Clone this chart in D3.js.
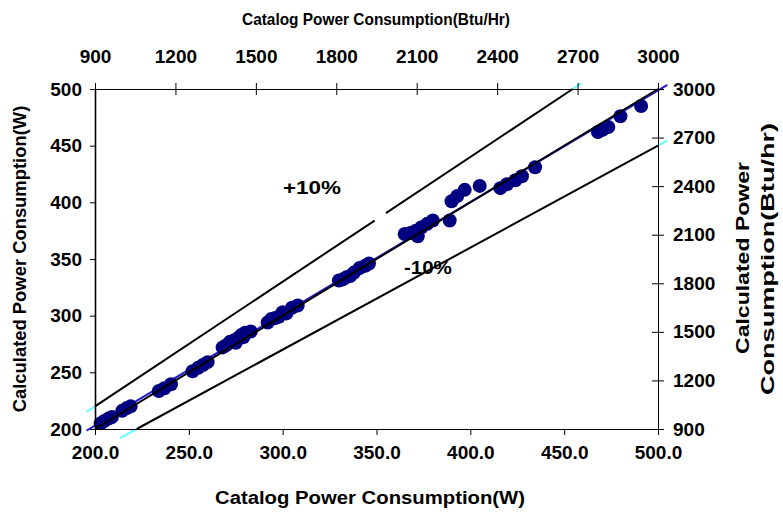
<!DOCTYPE html>
<html>
<head>
<meta charset="utf-8">
<script src="https://cdn.jsdelivr.net/npm/d3@7"></script>
<style>
  body { margin: 0; background: #fff; }
  svg { font-family: "Liberation Sans", Arial, sans-serif; font-weight: bold; }
  .axis path, .axis line { stroke: #000; }
  .axis text { font-size: 19px; fill: #000; }
</style>
</head>
<body>
<div id="chart"></div>
<script>
"use strict";

// catalog power (W) vs calculated power (W)
const catalogW = [
  203, 205, 207.5, 209, 214.5, 217, 219,
  234, 237, 240.5, 252, 255, 257.5, 260,
  268, 270, 272, 274, 275, 276, 278, 279, 280, 283,
  292, 294, 296, 298, 300, 302, 305, 308,
  330, 332, 334, 336, 338, 341, 344, 346,
  365, 368, 371, 372, 374, 377, 380, 389,
  390, 393, 397, 405, 416, 419.5, 424, 427.5, 434.5,
  468, 470.5, 473.5, 480, 491
];
const calculatedW = [
  205, 207, 209.5, 210.5, 216, 218.5, 220,
  233.5, 236, 239.5, 251, 254, 256.5, 259,
  272, 274, 277, 278, 276, 280, 283, 281, 285, 286,
  294, 297, 298, 299, 303, 302, 307, 309,
  331, 332, 334, 335, 338, 342, 344, 346,
  372, 373, 375, 370, 378, 381, 384, 384,
  401, 405.5, 411, 414.5, 412.5, 416, 419.5, 423, 431,
  462, 464, 466.5, 476, 485
];

const wTicksX = [200, 250, 300, 350, 400, 450, 500];
const wTicksY = [200, 250, 300, 350, 400, 450, 500];
const btuTicks = [900, 1200, 1500, 1800, 2100, 2400, 2700, 3000];

// reference lines: y = slope * x
const refSlopes = [1.1, 1.0, 0.9];

const W = 783, H = 514;
const margin = { top: 89, right: 125, bottom: 85, left: 95 };
const width = W - margin.left - margin.right;
const height = H - margin.top - margin.bottom;

const svg = d3.select("#chart").append("svg")
  .attr("width", W).attr("height", H);

const g = svg.append("g")
  .attr("transform", `translate(${margin.left},${margin.top})`);

const x = d3.scaleLinear().domain([200, 500]).range([0, width]);
const y = d3.scaleLinear().domain([200, 500]).range([height, 0]);
const xTop = d3.scaleLinear().domain([900, 3000]).range([0, width]);
const yRight = d3.scaleLinear().domain([900, 3000]).range([height, 0]);

function seg(x0, x1, k, color, w) {
  g.append("line")
    .attr("x1", x(x0)).attr("y1", y(k * x0))
    .attr("x2", x(x1)).attr("y2", y(k * x1))
    .attr("stroke", color)
    .attr("stroke-width", w);
}

// linear trend of the points
const mx = d3.mean(catalogW), my = d3.mean(calculatedW);
const slope = d3.sum(catalogW, (c, i) => (c - mx) * (calculatedW[i] - my)) /
              d3.sum(catalogW, c => (c - mx) * (c - mx));
const icpt = my - slope * mx;
g.append("line")
  .attr("x1", x(195.5)).attr("y1", y(icpt + slope * 195.5))
  .attr("x2", x(505)).attr("y2", y(icpt + slope * 505))
  .attr("stroke", "#2a1fd0")
  .attr("stroke-width", 2);

// cyan stubs where the +/-10% lines run past the box
seg(195.5, 200, 1.1, "#66ffff", 2);
seg(500 / 1.1, 505 / 1.1, 1.1, "#66ffff", 2);
seg(192 / 0.9, 200 / 0.9, 0.9, "#66ffff", 2);
seg(500, 505, 0.9, "#66ffff", 2);

const pts = catalogW.map((c, i) => ({ c: c, v: calculatedW[i] }));

g.selectAll(".pt")
  .data(pts)
  .enter()
  .append("circle")
  .attr("class", "pt")
  .attr("cx", d => x(d.c))
  .attr("cy", d => y(d.v))
  .attr("r", 7)
  .attr("fill", "#000080");

refSlopes.forEach(k => {
  const x0 = Math.max(200, 200 / k), x1 = Math.min(500, 500 / k);
  // the +10% line has a small break in it
  if (k > 1) {
    seg(x0, 349, k, "#000", 2);
    seg(355, x1, k, "#000", 2);
  } else {
    seg(x0, x1, k, "#000", 2);
  }
});

g.append("text")
  .attr("x", x(315.6)).attr("y", y(413.5))
  .attr("text-anchor", "middle").attr("dy", "0.35em")
  .attr("textLength", 58).attr("lengthAdjust", "spacingAndGlyphs")
  .style("font-size", "19px")
  .text("+10%");

g.append("text")
  .attr("x", x(377.4)).attr("y", y(343))
  .attr("text-anchor", "middle").attr("dy", "0.35em")
  .attr("textLength", 48).attr("lengthAdjust", "spacingAndGlyphs")
  .style("font-size", "19px")
  .text("-10%");

// axes
g.append("g")
  .attr("class", "axis")
  .attr("transform", `translate(0,${height})`)
  .call(d3.axisBottom(x).tickValues(wTicksX).tickFormat(d3.format(".1f"))
    .tickSizeInner(6).tickSizeOuter(0).tickPadding(11));

const gl = g.append("g")
  .attr("class", "axis")
  .call(d3.axisLeft(y).tickValues(wTicksY).tickFormat(d3.format("d"))
    .tickSizeInner(5).tickSizeOuter(0).tickPadding(8));
gl.select(".domain").attr("stroke", "#404040").attr("stroke-width", 1.6);

const gt = g.append("g")
  .attr("class", "axis")
  .call(d3.axisTop(xTop).tickValues(btuTicks).tickFormat(d3.format("d"))
    .tickSizeInner(6).tickSizeOuter(0).tickPadding(20));
gt.selectAll(".tick line").attr("y1", 6).attr("y2", -6);

const gr = g.append("g")
  .attr("class", "axis")
  .attr("transform", `translate(${width},0)`)
  .call(d3.axisRight(yRight).tickValues(btuTicks).tickFormat(d3.format("d"))
    .tickSizeInner(6).tickSizeOuter(0).tickPadding(9));
gr.selectAll(".tick line").attr("x1", -6).attr("x2", 6);

// axis titles
svg.append("text")
  .attr("x", 376).attr("y", 25)
  .attr("text-anchor", "middle")
  .attr("textLength", 268).attr("lengthAdjust", "spacingAndGlyphs")
  .style("font-size", "16.5px")
  .text("Catalog Power Consumption(Btu/Hr)");

svg.append("text")
  .attr("x", 370).attr("y", 504)
  .attr("text-anchor", "middle")
  .attr("textLength", 310).attr("lengthAdjust", "spacingAndGlyphs")
  .style("font-size", "18px")
  .text("Catalog Power Consumption(W)");

svg.append("text")
  .attr("transform", "translate(26,259) rotate(-90)")
  .attr("text-anchor", "middle")
  .style("font-size", "18.4px")
  .text("Calculated Power Consumption(W)");

svg.append("text")
  .attr("transform", "translate(749,258) rotate(-90)")
  .attr("text-anchor", "middle")
  .attr("textLength", 192).attr("lengthAdjust", "spacingAndGlyphs")
  .style("font-size", "18px")
  .text("Calculated Power");

svg.append("text")
  .attr("transform", "translate(774,259) rotate(-90)")
  .attr("text-anchor", "middle")
  .attr("textLength", 272).attr("lengthAdjust", "spacingAndGlyphs")
  .style("font-size", "18px")
  .text("Consumption(Btu/hr)");
</script>
</body>
</html>
